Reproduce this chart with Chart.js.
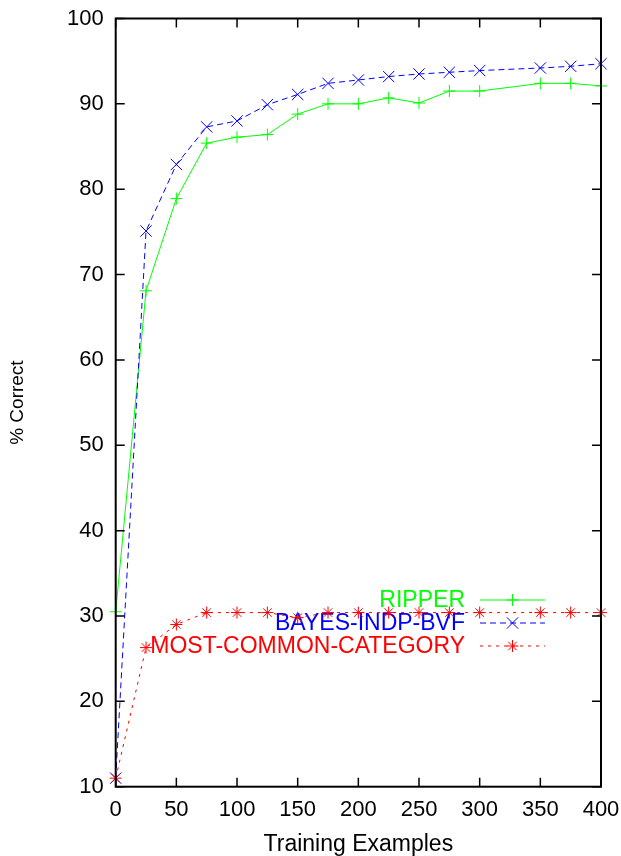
<!DOCTYPE html>
<html>
<head>
<meta charset="utf-8">
<script src="https://cdn.jsdelivr.net/npm/chart.js@4/dist/chart.umd.min.js"></script>
<style>
  html, body { margin: 0; padding: 0; background: #fff; }
  canvas { display: block; }
</style>
</head>
<body>
<canvas id="myChart" width="621" height="856"></canvas>
<script>
// Datos
const trainingExamples = [0, 25, 50, 75, 100, 125, 150, 175, 200, 225, 250, 275, 300, 350, 375, 400];
const ripper = [30.5, 68.1, 78.9, 85.4, 86.1, 86.4, 88.8, 90.0, 90.0, 90.7, 90.1, 91.5, 91.5, 92.4, 92.4, 92.1];
const bayesIndpBvf = [11.0, 75.1, 82.9, 87.3, 88.0, 89.9, 91.1, 92.4, 92.8, 93.2, 93.5, 93.7, 93.9, 94.2, 94.4, 94.7];
const mostCommonCategory = [11.0, 26.3, 29.0, 30.4, 30.4, 30.4, 29.8, 30.4, 30.4, 30.4, 30.4, 30.4, 30.4, 30.4, 30.4, 30.4];
const seriesNames = ['RIPPER', 'BAYES-INDP-BVF', 'MOST-COMMON-CATEGORY'];
const xTicks = [0, 50, 100, 150, 200, 250, 300, 350, 400];
const yTicks = [10, 20, 30, 40, 50, 60, 70, 80, 90, 100];

const FONT = 'Liberation Sans, Arial, Helvetica, sans-serif';

const toPoints = (ys) => trainingExamples.map((x, i) => ({ x, y: ys[i] }));

// Marco y marcas hacia dentro en los cuatro lados (estilo gnuplot)
const framePlugin = {
  id: 'frame',
  afterDraw(chart) {
    const { ctx, chartArea: a, scales } = chart;
    const len = 9;
    ctx.save();
    ctx.strokeStyle = '#000';
    ctx.lineWidth = 1.5;
    ctx.beginPath();
    xTicks.forEach(v => {
      const px = scales.x.getPixelForValue(v);
      ctx.moveTo(px, a.bottom); ctx.lineTo(px, a.bottom - len);
      ctx.moveTo(px, a.top); ctx.lineTo(px, a.top + len);
    });
    yTicks.forEach(v => {
      const py = scales.y.getPixelForValue(v);
      ctx.moveTo(a.left, py); ctx.lineTo(a.left + len, py);
      ctx.moveTo(a.right, py); ctx.lineTo(a.right - len, py);
    });
    ctx.stroke();
    ctx.lineWidth = 2;
    ctx.strokeRect(a.left, a.top, a.right - a.left, a.bottom - a.top);
    ctx.restore();
  }
};

// Leyenda: texto alineado a la derecha, muestra de línea a la derecha
const keyPlugin = {
  id: 'key',
  beforeDatasetsDraw(chart) {
    const { ctx } = chart;
    const textRight = 465, lineL = 480, lineR = 545;
    const rows = [600, 623, 646];
    ctx.save();
    ctx.font = '23px ' + FONT;
    ctx.textAlign = 'right';
    ctx.textBaseline = 'middle';
    chart.data.datasets.forEach((ds, i) => {
      const y = rows[i];
      ctx.fillStyle = ds.borderColor;
      ctx.fillText(ds.label, textRight, y + 1);
      ctx.strokeStyle = ds.borderColor;
      ctx.lineWidth = 1;
      ctx.setLineDash(ds.borderDash || []);
      ctx.beginPath();
      ctx.moveTo(lineL, y); ctx.lineTo(lineR, y);
      ctx.stroke();
      ctx.setLineDash([]);
      Chart.helpers.drawPoint(ctx, {
        pointStyle: ds.pointStyle, radius: ds.pointRadius, rotation: 0, borderWidth: 1
      }, (lineL + lineR) / 2, y);
    });
    ctx.restore();
  }
};

const ctx = document.getElementById('myChart').getContext('2d');
new Chart(ctx, {
  type: 'line',
  data: {
    datasets: [
      {
        label: seriesNames[0], data: toPoints(ripper),
        borderColor: '#00ff00', pointBorderColor: '#00ff00', backgroundColor: '#00ff00',
        borderWidth: 1, pointStyle: 'cross', pointRadius: 6, pointBorderWidth: 1, order: 3
      },
      {
        label: seriesNames[1], data: toPoints(bayesIndpBvf),
        borderColor: '#0000ff', pointBorderColor: '#0000ff', backgroundColor: '#0000ff',
        borderWidth: 1, borderDash: [6, 4], pointStyle: 'crossRot', pointRadius: 8, pointBorderWidth: 1, order: 2
      },
      {
        label: seriesNames[2], data: toPoints(mostCommonCategory),
        borderColor: '#ff0000', pointBorderColor: '#ff0000', backgroundColor: '#ff0000',
        borderWidth: 1, borderDash: [3, 5], pointStyle: 'star', pointRadius: 6, pointBorderWidth: 1, order: 1
      }
    ]
  },
  options: {
    responsive: false,
    animation: false,
    events: [],
    clip: false,
    layout: { padding: { top: 18.5, right: 20, left: 0, bottom: 0 } },
    plugins: { legend: { display: false }, tooltip: { enabled: false } },
    scales: {
      x: {
        type: 'linear', min: 0, max: 400,
        afterFit: (s) => { s.height = 69.3; s.paddingLeft = 0; s.paddingRight = 0; },
        afterBuildTicks: (s) => { s.ticks = xTicks.map(v => ({ value: v })); },
        grid: { display: false, drawTicks: false },
        border: { display: false },
        ticks: { color: '#000', font: { family: FONT, size: 22 }, padding: 10, maxRotation: 0 },
        title: { display: true, text: 'Training Examples', color: '#000', font: { family: FONT, size: 23 }, padding: { top: 0, bottom: -2 } }
      },
      y: {
        type: 'linear', min: 10, max: 100,
        afterFit: (s) => { s.width = 115.7; s.paddingTop = 0; s.paddingBottom = 0; },
        afterBuildTicks: (s) => { s.ticks = yTicks.map(v => ({ value: v })); },
        grid: { display: false, drawTicks: false },
        border: { display: false },
        ticks: { color: '#000', font: { family: FONT, size: 22 }, padding: 12 },
        title: { display: true, text: '% Correct', color: '#000', font: { family: FONT, size: 19 }, padding: { top: 6, bottom: 0 } }
      }
    }
  },
  plugins: [keyPlugin, framePlugin]
});
</script>
</body>
</html>
